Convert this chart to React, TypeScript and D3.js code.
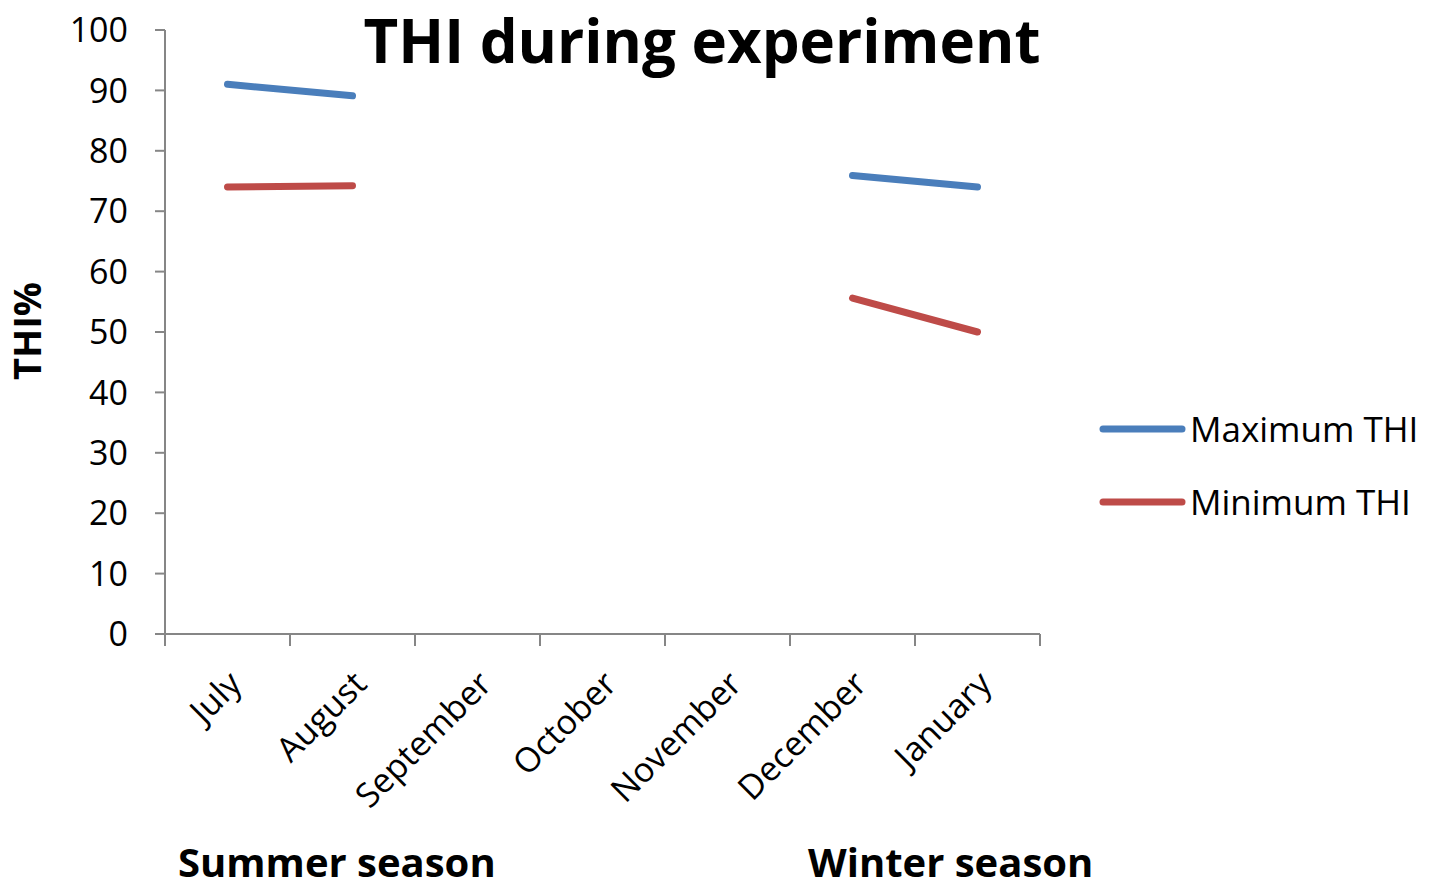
import React from 'react'
import * as d3 from 'd3'

const MONTHS = ['July', 'August', 'September', 'October', 'November', 'December', 'January']
const MAX_THI: (number | null)[] = [91, 89.1, null, null, null, 75.9, 74]
const MIN_THI: (number | null)[] = [74, 74.2, null, null, null, 55.6, 50]
const Y_TICKS = [0, 10, 20, 30, 40, 50, 60, 70, 80, 90, 100]
const SERIES = [
  { name: 'Maximum THI', values: MAX_THI, color: '#4a7ebb' },
  { name: 'Minimum THI', values: MIN_THI, color: '#be4b48' },
]
const SEASONS = [
  { label: 'Summer season', x: 178 },
  { label: 'Winter season', x: 808 },
]

const FONT = '"Open Sans", "Noto Sans", sans-serif'
const AXIS = '#868686'

export default function App() {
  const x = d3.scaleBand().domain(MONTHS).range([165, 1040])
  const y = d3.scaleLinear().domain([0, 100]).range([634, 30])
  const line = d3.line<number | null>()
    .defined(v => v != null)
    .x((_, i) => (x(MONTHS[i]) ?? 0) + x.bandwidth() / 2)
    .y(v => y(v as number))

  const bounds = [...MONTHS.map(m => x(m) ?? 0), 1040]

  return (
    <svg width={1430} height={890} style={{ position: 'absolute', left: 0, top: 0, background: '#fff' }}
      fontFamily={FONT}>
      {/* y axis */}
      <line x1={165} x2={165} y1={y(100)} y2={y(0)} stroke={AXIS} strokeWidth={2} />
      {Y_TICKS.map(t => (
        <g key={t}>
          <line x1={155} x2={165} y1={y(t)} y2={y(t)} stroke={AXIS} strokeWidth={2} />
          <text x={128} y={y(t)} dy="0.36em" textAnchor="end" fontSize={34} fill="#000">{t}</text>
        </g>
      ))}
      {/* x axis */}
      <line x1={155} x2={1040} y1={y(0)} y2={y(0)} stroke={AXIS} strokeWidth={2} />
      {bounds.map((b, i) => (
        <line key={i} x1={b} x2={b} y1={y(0)} y2={y(0) + 12} stroke={AXIS} strokeWidth={2} />
      ))}
      {MONTHS.map(m => {
        const cx = (x(m) ?? 0) + x.bandwidth() / 2 + 16
        const cy = 686
        return (
          <text key={m} x={cx} y={cy} textAnchor="end" fontSize={34} fill="#000"
            transform={`rotate(-45 ${cx} ${cy})`}>{m}</text>
        )
      })}
      {/* series */}
      {SERIES.map(s => (
        <path key={s.name} d={line(s.values) ?? ''} fill="none" stroke={s.color}
          strokeWidth={7} strokeLinecap="round" strokeLinejoin="round" />
      ))}
      {/* title */}
      <text x={702} y={63} textAnchor="middle" fontSize={60} fontWeight={700} fill="#000">THI during experiment</text>
      {/* y label */}
      <text transform="rotate(-90)" x={-331} y={41} textAnchor="middle" fontSize={38} fontWeight={700} fill="#000">THI%</text>
      {/* legend */}
      {SERIES.map((s, i) => (
        <g key={s.name} transform={`translate(0,${429 + i * 73})`}>
          <line x1={1103} x2={1182} y1={0} y2={0} stroke={s.color} strokeWidth={7} strokeLinecap="round" />
          <text x={1190} y={0} dy="0.36em" fontSize={35} fill="#000">{s.name}</text>
        </g>
      ))}
      {/* seasons */}
      {SEASONS.map(s => (
        <text key={s.label} x={s.x} y={877} fontSize={40} fontWeight={700} fill="#000">{s.label}</text>
      ))}
    </svg>
  )
}
